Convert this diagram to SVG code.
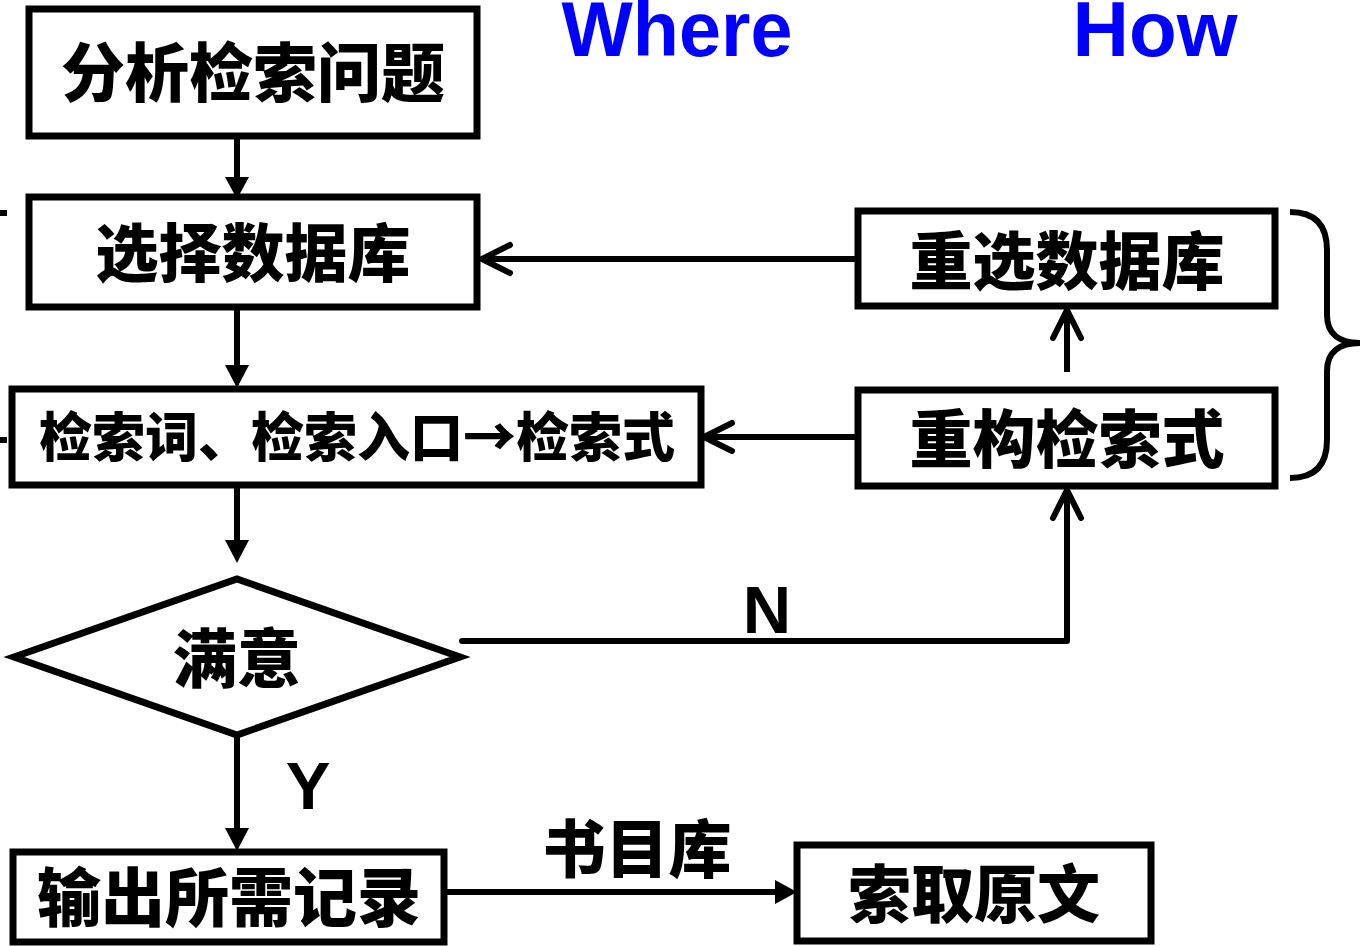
<svg xmlns="http://www.w3.org/2000/svg" width="1362" height="946" viewBox="0 0 1362 946">
<defs>
<style>
.box{fill:#fff;stroke:#000;stroke-width:7}
.cjk{font-family:"Noto Sans CJK SC","Liberation Sans",sans-serif;font-weight:900;fill:#000;text-anchor:middle}
.lat{font-family:"Liberation Sans",Arial,sans-serif;font-weight:700;text-anchor:middle}
.ln{fill:none;stroke:#000;stroke-width:6}
.chev{fill:none;stroke:#000;stroke-width:6;stroke-linecap:round;stroke-linejoin:round}
.tri{fill:#000}
</style>
</defs>
<rect width="1362" height="946" fill="#fff"/>
<g id="labels">
<text class="lat" x="677" y="56" font-size="78" fill="#0000ff" textLength="231" lengthAdjust="spacingAndGlyphs">Where</text>
<text class="lat" x="1155" y="56" font-size="78" fill="#0000ff" textLength="165" lengthAdjust="spacingAndGlyphs">How</text>
<text class="lat" x="767" y="633" font-size="67" fill="#000">N</text>
<text class="lat" x="308" y="809" font-size="67" fill="#000">Y</text>
<text class="cjk" x="637" y="872" font-size="63">书目库</text>
</g>
<g id="connectors">
<line class="ln" x1="237" y1="136" x2="237" y2="180"/>
<polygon class="tri" points="225,177 249,177 237,199"/>
<line class="ln" x1="237" y1="307" x2="237" y2="370"/>
<polygon class="tri" points="225,365 249,365 237,388"/>
<line class="ln" x1="237" y1="485" x2="237" y2="545"/>
<polygon class="tri" points="225,540 249,540 237,563"/>
<line class="ln" x1="237" y1="735" x2="237" y2="832"/>
<polygon class="tri" points="225,828 249,828 237,851"/>
<line class="ln" x1="444" y1="892" x2="780" y2="892"/>
<polygon class="tri" points="775,880 775,904 797,892"/>
<line class="ln" x1="858" y1="259" x2="484" y2="259"/>
<polyline class="chev" points="510,245 482,259 510,273"/>
<line class="ln" x1="858" y1="437" x2="706" y2="437"/>
<polyline class="chev" points="732,423 704,437 732,451"/>
<line class="ln" x1="1067" y1="372" x2="1067" y2="312"/>
<polyline class="chev" points="1053,338 1067,310 1081,338"/>
<path class="chev" d="M462,641 H1067 V492"/>
<polyline class="chev" points="1053,518 1067,490 1081,518"/>
<path class="ln" d="M1290,212 C1315,212 1327,225 1327,250 L1327,315 C1327,335 1340,343 1360,343 C1340,343 1327,351 1327,371 L1327,440 C1327,465 1315,478 1290,478"/>
<line class="ln" x1="0" y1="213" x2="7" y2="213"/>
<line class="ln" x1="0" y1="440" x2="7" y2="440"/>
</g>
<g id="n1"><rect class="box" x="29" y="9" width="448" height="127"/><text class="cjk" x="253" y="96" font-size="64">分析检索问题</text></g>
<g id="n2"><rect class="box" x="29" y="197" width="448" height="110"/><text class="cjk" x="253" y="276" font-size="63">选择数据库</text></g>
<g id="n3"><rect class="box" x="12" y="389" width="689" height="96"/><text class="cjk" x="357" y="457" font-size="53">检索词、检索入口→检索式</text></g>
<g id="n4"><rect class="box" x="858" y="211" width="417" height="95"/><text class="cjk" x="1067" y="284" font-size="63">重选数据库</text></g>
<g id="n5"><rect class="box" x="858" y="390" width="417" height="96"/><text class="cjk" x="1067" y="462" font-size="63">重构检索式</text></g>
<g id="n6"><polygon class="box" points="14,657 237,579 460,657 237,735"/><text class="cjk" x="237" y="682" font-size="64">满意</text></g>
<g id="n7"><rect class="box" x="13" y="852" width="431" height="90"/><text class="cjk" x="229" y="921" font-size="64">输出所需记录</text></g>
<g id="n8"><rect class="box" x="797" y="845" width="354" height="96"/><text class="cjk" x="974" y="917" font-size="63">索取原文</text></g>
</svg>
